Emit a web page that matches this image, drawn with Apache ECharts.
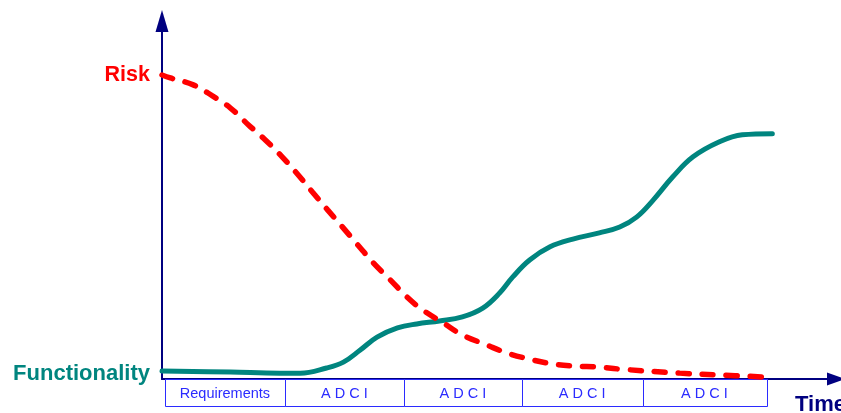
<!DOCTYPE html>
<html>
<head>
<meta charset="utf-8">
<script src="https://cdn.jsdelivr.net/npm/echarts@6/dist/echarts.min.js"></script>
<style>
html,body{margin:0;padding:0;background:#fff;}
#chart{width:841px;height:413px;}
</style>
</head>
<body>
<div id="chart"></div>
<script>
// Time is measured in phases, level in percent of the plot height
const riskData = [
  [0.00, 82.8], [0.07, 82.0], [0.26, 80.1], [0.42, 77.1], [0.57, 73.8],
  [0.72, 69.2], [0.86, 65.1], [1.00, 60.5], [1.12, 56.1], [1.25, 51.0],
  [1.38, 46.0], [1.51, 41.1], [1.63, 36.5], [1.76, 31.6], [1.90, 27.0],
  [2.04, 22.3], [2.17, 18.8], [2.34, 15.3], [2.50, 12.0], [2.70, 9.3],
  [2.87, 7.1], [3.06, 5.4], [3.25, 4.1], [3.45, 3.5], [3.62, 3.3],
  [3.81, 2.7], [4.31, 1.6], [4.64, 1.1], [5.04, 0.5]
];
const functionalityData = [
  [0.00, 2.2], [0.57, 1.9], [0.98, 1.6], [1.15, 1.6], [1.37, 3.0],
  [1.51, 4.6], [1.65, 7.9], [1.79, 11.4], [1.96, 13.9], [2.12, 15.0],
  [2.31, 15.8], [2.50, 16.9], [2.67, 19.3], [2.81, 23.4], [2.92, 27.8],
  [3.06, 32.4], [3.23, 36.0], [3.42, 38.1], [3.64, 39.8], [3.81, 41.4],
  [3.95, 44.1], [4.09, 48.8], [4.25, 55.0], [4.42, 60.5], [4.64, 64.6],
  [4.83, 66.5], [5.08, 66.8]
];
const phaseNames = ['Requirements', 'A D C I', 'A D C I', 'A D C I', 'A D C I'];
const phaseBounds = [0.025, 1.023, 2.013, 2.995, 4.0, 5.03];
const riskLabel = 'Risk';
const functionalityLabel = 'Functionality';
const timeLabel = 'Time';

const phases = phaseNames.map((n, i) => [phaseBounds[i], phaseBounds[i + 1], n]);

const chart = echarts.init(document.getElementById('chart'), null, {renderer: 'canvas'});
const navy = '#000080';
const boxBlue = '#2b2bff';
const xMax = 5.61;

chart.setOption({
  animation: false,
  backgroundColor: '#ffffff',
  grid: [
    {left: 162, right: 5, top: 21, bottom: 34},
    {left: 162, right: 5, top: 379, height: 27}
  ],
  xAxis: [
    {
      type: 'value', min: 0, max: xMax, gridIndex: 0,
      axisLine: {show: true, lineStyle: {color: navy, width: 2},
        symbol: ['none', 'triangle'], symbolSize: [13, 18]},
      axisTick: {show: false}, axisLabel: {show: false}, splitLine: {show: false}
    },
    {
      type: 'value', min: 0, max: xMax, gridIndex: 1, show: false
    }
  ],
  yAxis: [
    {
      type: 'value', min: 0, max: 97.5, gridIndex: 0,
      axisLine: {show: true, onZero: false, lineStyle: {color: navy, width: 2},
        symbol: ['none', 'triangle'], symbolSize: [13, 22]},
      axisTick: {show: false}, axisLabel: {show: false}, splitLine: {show: false}
    },
    {
      type: 'value', min: 0, max: 1, gridIndex: 1, show: false
    }
  ],
  series: [
    {
      type: 'custom',
      xAxisIndex: 1, yAxisIndex: 1,
      data: phases,
      renderItem: function (params, api) {
        const p0 = api.coord([api.value(0), 1]);
        const p1 = api.coord([api.value(1), 0]);
        return {
          type: 'group',
          children: [
            {
              type: 'rect',
              shape: {x: Math.round(p0[0]) + 0.5, y: Math.round(p0[1]) + 0.5,
                width: Math.round(p1[0] - p0[0]), height: Math.round(p1[1] - p0[1])},
              style: {fill: '#ffffff', stroke: boxBlue, lineWidth: 1}
            },
            {
              type: 'text',
              x: (p0[0] + p1[0]) / 2,
              y: (p0[1] + p1[1]) / 2 + 1,
              style: {
                text: api.value(2),
                fill: boxBlue,
                font: '14.5px "Liberation Sans", Arial, sans-serif',
                align: 'center',
                verticalAlign: 'middle'
              }
            }
          ]
        };
      }
    },
    {
      name: 'Risk',
      type: 'line',
      data: riskData,
      smooth: 0.4,
      showSymbol: false,
      symbol: 'none',
      lineStyle: {color: '#ff0000', width: 5.5, type: [11, 13], cap: 'round'},
      markPoint: {
        symbol: 'circle', symbolSize: 0,
        data: [{coord: riskData[0], value: riskLabel}],
        label: {
          show: true, position: 'left', distance: 12,
          formatter: riskLabel,
          color: '#ff0000', fontWeight: 'bold', fontSize: 21.5,
          fontFamily: '"Liberation Sans", Arial, sans-serif'
        }
      },
      z: 3
    },
    {
      name: 'Functionality',
      type: 'line',
      data: functionalityData,
      smooth: 0.4,
      showSymbol: false,
      symbol: 'none',
      lineStyle: {color: '#00857f', width: 5, cap: 'round'},
      markPoint: {
        symbol: 'circle', symbolSize: 0,
        data: [{coord: functionalityData[0], value: functionalityLabel}],
        label: {
          show: true, position: 'left', distance: 12, offset: [0, 3],
          formatter: functionalityLabel,
          color: '#00857f', fontWeight: 'bold', fontSize: 22,
          fontFamily: '"Liberation Sans", Arial, sans-serif'
        }
      },
      z: 2
    }
  ],
  graphic: [
    {
      type: 'text',
      left: 795, top: 394,
      style: {
        text: timeLabel,
        fill: navy,
        font: 'bold 22px "Liberation Sans", Arial, sans-serif'
      }
    }
  ]
});
</script>
</body>
</html>
